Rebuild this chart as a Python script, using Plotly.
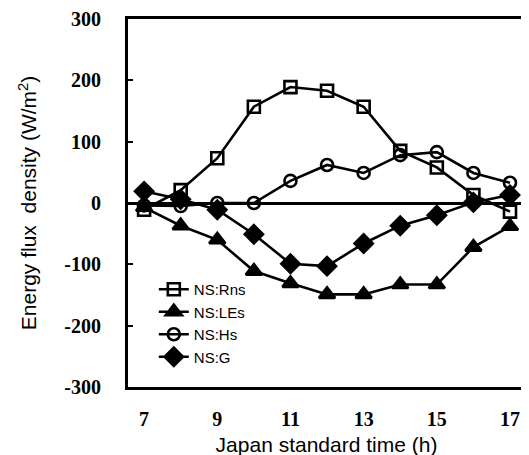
import plotly.graph_objects as go

hours = [7, 8, 9, 10, 11, 12, 13, 14, 15, 16, 17]
rns = [-11, 21, 73, 157, 189, 183, 157, 85, 58, 13, -14]
les = [-7, -37, -60, -111, -131, -149, -149, -133, -133, -72, -38]
hs = [-4, -5, 0, 0, 36, 62, 49, 78, 83, 49, 33]
g = [19, 6, -11, -51, -99, -103, -66, -37, -20, 1, 13]

x_ticks = [7, 9, 11, 13, 15, 17]
y_ticks = [-300, -200, -100, 0, 100, 200, 300]
y_tick_text = ["-300", "-200", "-100", "0", "100", "200", "300"]

series = [
    ("NS:Rns", rns, "square-open", 12),
    ("NS:LEs", les, "triangle-up", 14),
    ("NS:Hs", hs, "circle-open", 12),
    ("NS:G", g, "diamond", 14),
]

fig = go.Figure()
for name, vals, sym, sz in series:
    fig.add_trace(go.Scatter(
        x=hours, y=vals, name=name, mode="lines+markers",
        line=dict(color="black", width=2.6),
        marker=dict(symbol=sym, size=sz, color="black",
                    line=dict(color="black", width=2.6)),
    ))

fig.update_layout(
    width=529, height=455,
    margin=dict(l=120, r=12, t=11, b=76, autoexpand=False),
    plot_bgcolor="white", paper_bgcolor="white",
    showlegend=True,
    legend=dict(x=0.065, y=0.174, xanchor="left", yanchor="middle",
                bgcolor="rgba(0,0,0,0)", borderwidth=0,
                font=dict(family="Liberation Sans", size=15, color="black"),
                tracegroupgap=0, itemwidth=30),
    font=dict(family="Liberation Sans", color="black"),
)
fig.update_xaxes(
    range=[6.56, 17.41], tickvals=x_ticks, ticks="", showgrid=False, zeroline=False,
    showline=True, linecolor="black", linewidth=3, mirror=True, automargin=False,
    tickfont=dict(family="Liberation Serif", size=20, color="black", weight="bold"),
    ticklabelstandoff=12,
    title=dict(text="Japan standard time (h)", standoff=9,
               font=dict(family="Liberation Sans", size=21, color="black")),
)
fig.update_yaxes(
    range=[-300, 300], tickvals=y_ticks, ticktext=y_tick_text, ticks="inside", ticklen=5,
    tickwidth=2, tickcolor="black", showgrid=False,
    zeroline=True, zerolinecolor="black", zerolinewidth=2.5,
    showline=True, linecolor="black", linewidth=3, mirror=True, automargin=False,
    tickfont=dict(family="Liberation Serif", size=20, color="black", weight="bold"),
    ticklabelstandoff=20,
    title=dict(text="Energy flux  density (W/m<sup>2</sup>)", standoff=22,
               font=dict(family="Liberation Sans", size=21, color="black")),
)

fig.write_html("out.html")
